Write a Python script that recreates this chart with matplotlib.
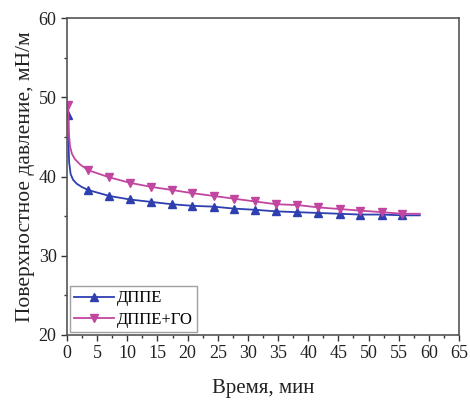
import matplotlib
matplotlib.use('Agg')
import matplotlib.pyplot as plt
from matplotlib.ticker import MultipleLocator

# --- data ---
# line points (denser near the start where the curve drops sharply)
t_dppe = [0.2, 0.25, 0.35, 0.6, 1.0, 1.6, 2.4, 3.5, 7.0, 10.45, 13.9, 17.4, 20.8, 24.3,
          27.7, 31.2, 34.7, 38.2, 41.7, 45.2, 48.6, 52.2, 55.6, 58.5]
y_dppe = [47.8, 44.0, 41.8, 40.3, 39.6, 39.1, 38.7, 38.3, 37.55, 37.1, 36.8, 36.5, 36.3,
          36.2, 35.95, 35.8, 35.6, 35.5, 35.4, 35.3, 35.2, 35.2, 35.1, 35.1]
mk_dppe = [0, 7, 8, 9, 10, 11, 12, 13, 14, 15, 16, 17, 18, 19, 20, 21, 22]

t_go = [0.2, 0.3, 0.5, 0.8, 1.3, 2.2, 3.5, 7.0, 10.45, 13.9, 17.4, 20.8, 24.3, 27.7,
        31.2, 34.7, 38.2, 41.7, 45.2, 48.6, 52.2, 55.6, 58.5]
y_go = [49.0, 45.5, 43.8, 42.9, 42.2, 41.5, 40.8, 39.9, 39.2, 38.7, 38.3, 37.9, 37.55,
        37.2, 36.85, 36.5, 36.4, 36.1, 35.9, 35.7, 35.5, 35.3, 35.3]
mk_go = [0, 6, 7, 8, 9, 10, 11, 12, 13, 14, 15, 16, 17, 18, 19, 20, 21]

labels = ['ДППЕ', 'ДППЕ+ГО']

plt.rcParams['font.family'] = ['Liberation Serif', 'DejaVu Serif']

fig = plt.figure(figsize=(4.7, 4.01), dpi=100)
ax = fig.add_axes([0.1426, 0.1646, 0.834, 0.7904])

ax.plot(t_dppe, y_dppe, color='#2e3fb0', linewidth=1.3, marker='^', markersize=6,
        markevery=mk_dppe, label=labels[0])
ax.plot(t_go, y_go, color='#c2469f', linewidth=1.3, marker='v', markersize=6,
        markevery=mk_go, label=labels[1])

ax.set_xlim(0, 65)
ax.set_ylim(20, 60)
ax.xaxis.set_major_locator(MultipleLocator(5))
ax.xaxis.set_minor_locator(MultipleLocator(2.5))
ax.yaxis.set_major_locator(MultipleLocator(10))
ax.yaxis.set_minor_locator(MultipleLocator(5))
ax.tick_params(which='major', direction='out', length=4, width=1, labelsize=13,
               colors='#333333', labelcolor='#222222')
ax.tick_params(which='minor', direction='out', length=2.5, width=1, colors='#333333')

for s in ax.spines.values():
    s.set_color('#555555')
    s.set_linewidth(1.2)

ax.set_xlabel('Время, мин', fontsize=15, color='#222222', labelpad=12)
ax.set_ylabel('Поверхностное давление, мН/м', fontsize=15.5, color='#222222', labelpad=3)

leg = ax.legend(loc='lower left', fontsize=12, frameon=True, fancybox=False,
                borderaxespad=0.15, handlelength=2.4, handletextpad=0.2,
                borderpad=0.25, labelspacing=0.35)
leg.get_frame().set_edgecolor('#888888')
leg.get_frame().set_linewidth(1.0)

fig.savefig('out.png', dpi=100)
